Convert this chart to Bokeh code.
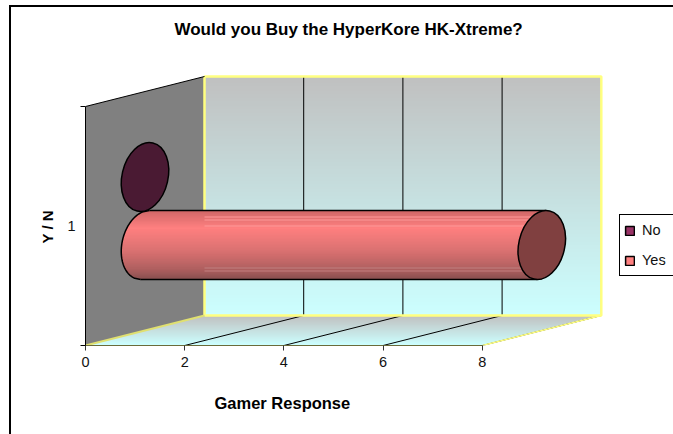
import numpy as np
from bokeh.embed import file_html
from bokeh.resources import INLINE
from bokeh.plotting import figure
from bokeh.models import (ColumnDataSource, FixedTicker, InlineStyleSheet, Legend,
                          LegendItem, LinearAxis, Range1d, Title)

# --- data ---
categories = ["1"]
series_names = ["No", "Yes"]
no_values = [0]
yes_values = [8]
x_ticks = [0, 2, 4, 6, 8]
title_text = "Would you Buy the HyperKore HK-Xtreme?"
x_title = "Gamer Response"
y_title = "Y / N"

# --- layout (pixels on the canvas) ---
W, H = 673, 434
LEFT, BOTTOM_PX, TOP_PX = 85, 345, 50
PX_X, PX_Y = 49.6, 239.0        # px per x-unit, px per category band
DX, DY = 119 / PX_X, 30 / PX_Y  # depth offset of the 3D box
XMAX = 8

x_end = (W - LEFT) / PX_X
y_end = (BOTTOM_PX - TOP_PX) / PX_Y

p = figure(width=W, height=H, output_backend="svg", toolbar_location=None,
           x_range=Range1d(0, x_end), y_range=Range1d(0, y_end),
           x_axis_location=None, y_axis_location=None,
           min_border_left=LEFT, min_border_right=0,
           min_border_top=TOP_PX, min_border_bottom=H - BOTTOM_PX,
           background_fill_color="white", border_fill_color="white",
           outline_line_color=None)
p.xgrid.visible = False
p.ygrid.visible = False

# outer chart border: only its left and top sides fall inside the picture
p.stylesheets = [InlineStyleSheet(css="""
:host::after { content: ""; position: absolute; left: 9px; top: 5px; right: 0; bottom: 0;
  border-left: 2px solid black; border-top: 2px solid black; pointer-events: none; }
""")]

p.title = Title(text=title_text, align="left", offset=89, standoff=23,
                text_font="Liberation Sans", text_font_size="17px",
                text_font_style="bold", text_color="black")

FONT = "Liberation Sans"
xaxis = LinearAxis(ticker=FixedTicker(ticks=x_ticks), bounds=(0, XMAX),
                   axis_line_color="#6b6b3a",
                   major_tick_in=0, major_tick_out=5, minor_tick_line_color=None,
                   major_tick_line_color="#333333",
                   major_label_text_font=FONT, major_label_text_font_size="14.5px",
                   major_label_text_color="#111111", major_label_standoff=6)
yaxis = LinearAxis(ticker=FixedTicker(ticks=[0.5], minor_ticks=[0, 1]), bounds=(0, 1),
                   major_label_overrides={0.5: categories[0]},
                   axis_line_color="black",
                   major_tick_in=0, major_tick_out=0,
                   minor_tick_in=0, minor_tick_out=5, minor_tick_line_color="black",
                   major_label_text_font=FONT, major_label_text_font_size="14.5px",
                   major_label_text_color="#111111", major_label_standoff=5)
p.add_layout(xaxis, "below")
p.add_layout(yaxis, "left")

# axis titles sit over the axes' own span, not the wide frame
p.add_layout(Title(text=x_title, align="left", offset=129, standoff=44,
                   text_font=FONT, text_font_size="16.5px", text_font_style="bold",
                   text_color="black"), "below")
p.add_layout(Title(text=y_title, align="left", offset=102, standoff=17,
                   text_font=FONT, text_font_size="15px", text_font_style="bold",
                   text_color="black"), "left")


def mix(c0, c1, t):
    return "#%02x%02x%02x" % tuple(int(round(a + (b - a) * t)) for a, b in zip(c0, c1))


GREY, CYAN = (0xc0, 0xc0, 0xc0), (0xcc, 0xff, 0xff)

# left wall
p.patch([0, DX, DX, 0], [0, DY, 1 + DY, 1], fill_color="#808080", line_color=None)

# back wall gradient
n = 239
edges = np.linspace(1 + DY, DY, n + 1)
p.quad(left=[DX] * n, right=[DX + XMAX] * n, top=edges[:-1].tolist(),
       bottom=(edges[1:] - 1.2 / PX_Y).clip(DY).tolist(),
       fill_color=[mix(GREY, CYAN, i / (n - 1)) for i in range(n)], line_color=None)

# floor gradient
m = 30
fe = np.linspace(DY, 0, m + 1)
xs, ys, cs = [], [], []
for i in range(m):
    top, bot = fe[i], max(fe[i + 1] - 1.2 / PX_Y, 0)
    sl = DX / DY
    xs.append([top * sl, top * sl + XMAX, bot * sl + XMAX, bot * sl])
    ys.append([top, top, bot, bot])
    cs.append(mix(GREY, CYAN, i / (m - 1)))
p.patches(xs, ys, fill_color=cs, line_color=None)

# grid lines on wall and floor
grid = [t for t in x_ticks if t > 0]
p.segment([t + DX for t in grid], [DY] * len(grid), [t + DX for t in grid], [1 + DY] * len(grid),
          line_color="black", line_width=1)
p.segment(grid, [0] * len(grid), [t + DX for t in grid], [DY] * len(grid),
          line_color="black", line_width=1)

# yellow edges of the box
YEL = "#ffff80"
p.line([DX, DX, DX + XMAX, DX + XMAX, DX], [DY, 1 + DY, 1 + DY, DY, DY], line_color=YEL, line_width=2.5)
p.line([0, DX], [0, DY], line_color="#e0e070", line_width=2)
p.line([XMAX, XMAX + DX], [0, DY], line_color=YEL, line_width=1.5)
# top edge of left wall
p.line([0, DX], [1, 1 + DY], line_color="black", line_width=1)

# --- cylinders ---
A, B, TILT = 23.0, 35.0, np.radians(13)   # ellipse semi-axes (px) and tilt
half_h = np.sqrt(A**2 * np.sin(TILT)**2 + B**2 * np.cos(TILT)**2)
OFF = 34.0 / PX_Y                         # band offset of each series


def ellipse_x(dy_px):
    """left/right x offsets (px) of the tilted ellipse at vertical offset dy_px (up positive)."""
    s, c = np.sin(TILT), np.cos(TILT)
    a = (c / A)**2 + (s / B)**2
    b = 2 * dy_px * (-c * s / A**2 + s * c / B**2)
    d = dy_px**2 * ((s / A)**2 + (c / B)**2) - 1
    disc = np.sqrt(np.maximum(b * b - 4 * a * d, 0))
    return (-b - disc) / (2 * a), (-b + disc) / (2 * a)


yes_y = 0.5 + DY / 2 - OFF
no_y = 0.5 + DY / 2 + OFF
base_x = DX / 2

stops = [(0.0, (0xd0, 0x68, 0x68)), (0.25, (0xff, 0x80, 0x80)), (0.6, (0xd8, 0x70, 0x70)),
         (0.85, (0xb0, 0x60, 0x60)), (1.0, (0x88, 0x50, 0x50))]


def body_col(t):
    for (t0, c0), (t1, c1) in zip(stops, stops[1:]):
        if t <= t1:
            return mix(c0, c1, (t - t0) / (t1 - t0))
    return mix(stops[-1][1], stops[-1][1], 0)


k = 68
hh = half_h
edges_px = np.linspace(hh, -hh, k + 1)
sx, sy, sc = [], [], []
for i in range(k):
    u0, u1 = edges_px[i], edges_px[i + 1]
    lo = max(u1 - 1.2, -hh)
    l0 = ellipse_x(u0)[0] / PX_X + base_x
    l1 = ellipse_x(lo)[0] / PX_X + base_x
    r = base_x + yes_values[0]
    sx.append([l0, r, r, l1])
    sy.append([yes_y + u0 / PX_Y, yes_y + u0 / PX_Y, yes_y + lo / PX_Y, yes_y + lo / PX_Y])
    sc.append(body_col(i / (k - 1)))
p.patches(sx, sy, fill_color=sc, line_color=None)

# pale rows where the bar crosses the back wall
rows = [28, 25, 19, -23, -26]
row_cols = ["#ff9a9a", "#ff9a9a", "#ff9a9a", "#c08080", "#c08080"]
p.segment([DX] * len(rows), [yes_y + u / PX_Y for u in rows],
          [base_x + yes_values[0]] * len(rows), [yes_y + u / PX_Y for u in rows],
          line_color=row_cols, line_width=1)

# outline of the cylinder's start and sides
ux = np.linspace(hh, -hh, 60)
arc_x = [ellipse_x(u)[0] / PX_X + base_x for u in ux]
arc_y = [yes_y + u / PX_Y for u in ux]
top_off = (B**2 - A**2) * np.sin(TILT) * np.cos(TILT) / hh / PX_X
p.line(arc_x, arc_y, line_color="black", line_width=1.5)
p.segment([base_x + top_off, base_x - top_off],
          [yes_y + hh / PX_Y, yes_y - hh / PX_Y],
          [base_x + yes_values[0] + top_off, base_x + yes_values[0] - top_off],
          [yes_y + hh / PX_Y, yes_y - hh / PX_Y], line_color="black", line_width=1.5)

# end caps
caps = ColumnDataSource(dict(x=[base_x + no_values[0], base_x + yes_values[0]], y=[no_y, yes_y],
                             c=["#4a1a33", "#804040"]))
p.ellipse("x", "y", width=2 * A, height=2 * B, angle=-TILT, width_units="screen",
          height_units="screen", fill_color="c", line_color="black", line_width=1.5, source=caps)

# legend
nan = float("nan")
empty = dict(left=[nan], right=[nan], top=[nan], bottom=[nan])
r_no = p.quad(source=ColumnDataSource(empty), left="left", right="right", top="top", bottom="bottom",
              fill_color="#993366", line_color="black", line_width=1.5)
r_yes = p.quad(source=ColumnDataSource(empty), left="left", right="right", top="top", bottom="bottom",
               fill_color="#ff8080", line_color="black", line_width=1.5)
legend = Legend(items=[LegendItem(label=series_names[0], renderers=[r_no]),
                       LegendItem(label=series_names[1], renderers=[r_yes])],
                location=(619 - LEFT, BOTTOM_PX - 276),
                glyph_width=11, glyph_height=11, label_width=90, spacing=8, padding=4,
                margin=0, label_standoff=7, label_text_font=FONT, label_text_font_size="14.5px",
                label_text_color="#111111", label_height=22,
                border_line_color="black", border_line_width=1, border_line_alpha=1,
                background_fill_alpha=1)
p.add_layout(legend)

open("out.html", "w").write(file_html(p, INLINE))
